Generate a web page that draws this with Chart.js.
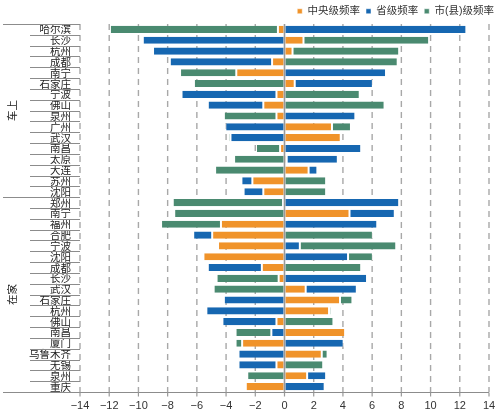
<!DOCTYPE html>
<html>
<head>
<meta charset="utf-8">
<script src="https://cdn.jsdelivr.net/npm/chart.js@4.4.0/dist/chart.umd.min.js"></script>
<style>
  html, body { margin: 0; padding: 0; background: #fff; }
  #wrap { width: 500px; height: 417px; }
</style>
</head>
<body>
<div id="wrap"><canvas id="freqChart"></canvas></div>
<script>
// groups and their cities (top to bottom)
const groups = ['车上', '在家'];
const carCities = ['哈尔滨', '长沙', '杭州', '成都', '南宁', '石家庄', '宁波', '佛山',
  '泉州', '广州', '武汉', '南昌', '太原', '大连', '苏州', '沈阳'];
const homeCities = ['郑州', '南宁', '福州', '合肥', '宁波', '沈阳', '成都', '长沙', '武汉',
  '石家庄', '杭州', '佛山', '南昌', '厦门', '乌鲁木齐', '无锡', '泉州', '重庆'];
const cities = carCities.concat(homeCities);

// signed values, one per city
const central = [-0.45, 1.3, 0.55, -0.85, -3.3, 0.7, -0.55, -1.45,
  -0.55, 3.25, 3.85, -0.3, 0.15, 1.65, -2.2, -1.45,
  -0.1, 4.45, -4.35, -4.95, -4.55, -5.55, -1.55, -0.4, 1.45,
  3.8, 3.05, -0.55, 4.15, -2.9, 2.55, -0.55, 1.55, -2.65];
const provincial = [12.45, -9.7, -9.0, -7.0, 6.95, 5.35, -6.5, -3.8,
  4.85, -4.05, -3.7, 5.25, 3.5, 0.6, -0.75, -1.35,
  7.85, 3.1, 6.35, -1.3, 1.05, 4.35, -3.7, 5.65, 3.5,
  -4.15, -5.35, -3.7, -0.9, 4.05, -3.15, -2.6, 1.3, 2.75];
const cityLevel = [-11.5, 8.6, 7.3, 7.75, -3.85, -6.2, 5.15, 6.85,
  -3.6, 1.3, -0.15, -1.65, -3.45, -4.75, 2.85, 2.85,
  -7.55, -7.55, -4.1, 6.05, 6.6, 1.7, 5.25, -4.25, -4.85,
  0.85, 0.15, 3.35, -2.45, -0.45, 0.4, 2.65, -2.55, 0];

const xTickValues = [-14, -12, -10, -8, -6, -4, -2, 0, 2, 4, 6, 8, 10, 12, 14];

Chart.defaults.font.family = "'Liberation Sans', 'Noto Sans CJK SC', sans-serif";
Chart.defaults.color = '#333';

// dashed value gridlines behind the bars, solid zero line on top
const valueGrid = {
  id: 'valueGrid',
  beforeDatasetsDraw(chart) {
    const { ctx, chartArea, scales: { x } } = chart;
    ctx.save();
    ctx.lineWidth = 1.4;
    ctx.strokeStyle = '#a8a8a8';
    ctx.setLineDash([6, 5]);
    xTickValues.forEach(v => {
      if (v === 0) return;
      const px = x.getPixelForValue(v);
      ctx.beginPath();
      ctx.moveTo(px, chartArea.top);
      ctx.lineTo(px, chartArea.bottom);
      ctx.stroke();
    });
    ctx.restore();
  },
  afterDatasetsDraw(chart) {
    const { ctx, chartArea, scales: { x } } = chart;
    const px = x.getPixelForValue(0);
    ctx.save();
    ctx.lineWidth = 1.6;
    ctx.strokeStyle = '#999';
    ctx.beginPath();
    ctx.moveTo(px, chartArea.top);
    ctx.lineTo(px, chartArea.bottom);
    ctx.stroke();
    ctx.restore();
  }
};

// left side: row separators and group labels, like a two-level category axis
const groupAxis = {
  id: 'groupAxis',
  afterDraw(chart) {
    const { ctx, chartArea, scales: { x, y } } = chart;
    const n = cities.length;
    const breaks = [0, carCities.length, n];
    ctx.save();
    ctx.strokeStyle = '#8c8c8c';
    ctx.lineWidth = 1;
    for (let i = 0; i <= n; i++) {
      let py;
      if (i === 0) py = chartArea.top;
      else if (i === n) py = chartArea.bottom;
      else py = (y.getPixelForValue(i - 1) + y.getPixelForValue(i)) / 2;
      py = Math.round(py) + 0.5;
      const x0 = breaks.includes(i) ? 3 : 30;
      ctx.beginPath();
      ctx.moveTo(x0, py);
      ctx.lineTo(i === n ? chartArea.right : chartArea.left, py);
      ctx.stroke();
    }
    // tick marks under the value axis
    ctx.strokeStyle = '#999';
    ctx.lineWidth = 1.2;
    const by = Math.round(chartArea.bottom) + 0.5;
    xTickValues.forEach(v => {
      const px = x.getPixelForValue(v);
      ctx.beginPath();
      ctx.moveTo(px, by);
      ctx.lineTo(px, by + 4);
      ctx.stroke();
    });
    ctx.fillStyle = '#222';
    ctx.font = "10.5px 'Noto Sans CJK SC', sans-serif";
    ctx.textAlign = 'center';
    ctx.textBaseline = 'middle';
    const spans = [[0, carCities.length - 1], [carCities.length, n - 1]];
    spans.forEach((s, g) => {
      const cy = (y.getPixelForValue(s[0]) + y.getPixelForValue(s[1])) / 2;
      ctx.save();
      ctx.translate(12, cy);
      ctx.rotate(-Math.PI / 2);
      ctx.fillText(groups[g], 0, 0);
      ctx.restore();
    });
    ctx.restore();
  }
};

const barStyle = {
  borderColor: '#fff',
  borderWidth: { left: 1, right: 1, top: 0, bottom: 0 },
  borderSkipped: false,
  barPercentage: 0.66,
  categoryPercentage: 1
};

new Chart(document.getElementById('freqChart'), {
  type: 'bar',
  data: {
    labels: cities,
    datasets: [
      { label: '中央级频率', data: central, backgroundColor: '#F0932A', ...barStyle },
      { label: '省级频率', data: provincial, backgroundColor: '#1667B1', ...barStyle },
      { label: '市(县)级频率', data: cityLevel, backgroundColor: '#4A8A70', ...barStyle }
    ]
  },
  options: {
    indexAxis: 'y',
    responsive: true,
    maintainAspectRatio: false,
    animation: false,
    layout: { padding: 0 },
    plugins: {
      tooltip: { enabled: false },
      legend: {
        position: 'top',
        align: 'end',
        maxHeight: 24,
        labels: {
          boxWidth: 5,
          boxHeight: 5,
          padding: 6,
          color: '#333',
          font: { size: 10.5 }
        }
      }
    },
    scales: {
      x: {
        stacked: true,
        min: -14,
        max: 14,
        afterBuildTicks: scale => {
          scale.ticks = xTickValues.map(v => ({ value: v }));
        },
        afterFit: scale => {
          scale.height = 25;
          scale.paddingRight = 11;
        },
        grid: { display: false, drawTicks: false },
        border: { display: false },
        ticks: {
          padding: 7,
          color: '#333',
          font: { size: 11 },
          maxRotation: 0,
          callback: v => String(v).replace('-', '\u2212')
        }
      },
      y: {
        stacked: true,
        afterFit: scale => { scale.width = 80; },
        grid: { display: false, drawTicks: false },
        border: { display: false },
        ticks: {
          padding: 9,
          color: '#222',
          autoSkip: false,
          font: { size: 10.5, family: "'Noto Sans CJK SC', sans-serif" }
        }
      }
    }
  },
  plugins: [valueGrid, groupAxis]
});
</script>
</body>
</html>
